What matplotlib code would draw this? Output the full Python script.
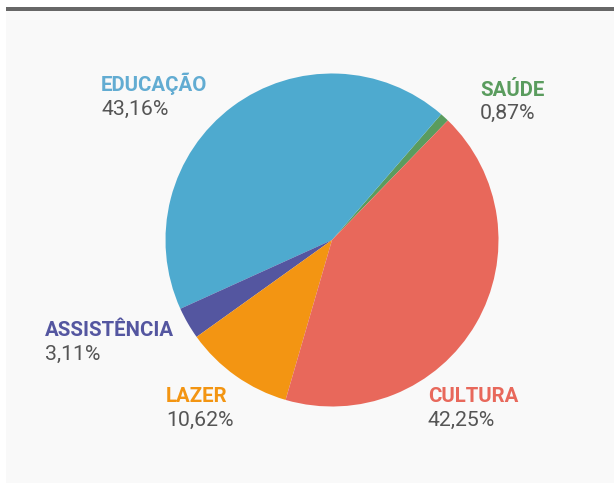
import matplotlib
matplotlib.use("Agg")
import matplotlib.pyplot as plt
from matplotlib.patches import Rectangle

# Spending share by area (%)
categories = ["SAÚDE", "EDUCAÇÃO", "ASSISTÊNCIA", "LAZER", "CULTURA"]
shares = [0.87, 43.16, 3.11, 10.62, 42.25]
value_labels = ["0,87%", "43,16%", "3,11%", "10,62%", "42,25%"]
colors = ["#5a9c5e", "#4eaacf", "#5456a0", "#f39512", "#e8685b"]
label_colors = ["#5a9c5e", "#62acd2", "#5456a0", "#f39512", "#e8685b"]

W, H = 614, 483
fig = plt.figure(figsize=(W / 100, H / 100), dpi=100)
fig.patch.set_facecolor("white")

def px(x, y):
    return x / W, 1 - y / H

# light panel and dark rule on top
fig.patches.append(Rectangle(px(6, 483), (W - 6) / W, (483 - 8) / H,
                             transform=fig.transFigure, facecolor="#f9f9f9",
                             edgecolor="none", zorder=-2))
fig.patches.append(Rectangle(px(6, 10.5), (W - 6) / W, 3 / H,
                             transform=fig.transFigure, facecolor="#676767",
                             edgecolor="none", zorder=-1))

# pie centred at (332, 240) px, radius 166 px
cx, cy, r = 332, 240, 166.5
ax = fig.add_axes([(cx - r) / W, 1 - (cy + r) / H, 2 * r / W, 2 * r / H])
ax.set_zorder(2)
ax.pie(shares, colors=colors, startangle=45.9, counterclock=True,
       wedgeprops=dict(linewidth=0))
ax.set_xlim(-1, 1)
ax.set_ylim(-1, 1)
ax.set_axis_off()
ax.patch.set_alpha(0)

# label anchors: left x, name baseline, value baseline (px)
label_pos = {
    "SAÚDE": (480, 96, 119),
    "EDUCAÇÃO": (101, 91, 115),
    "ASSISTÊNCIA": (45, 336, 360),
    "LAZER": (166, 402, 426),
    "CULTURA": (428, 402, 426),
}
name_font = dict(family="Roboto", weight="bold", size=14.7)
value_font = dict(family="Roboto", weight="normal", size=15.3)
for cat, val, col in zip(categories, value_labels, label_colors):
    x, yb1, yb2 = label_pos[cat]
    fig.text(*px(x, yb1), cat, color=col, ha="left", va="baseline", **name_font)
    fig.text(*px(x, yb2), val, color="#555555", ha="left", va="baseline", **value_font)

fig.savefig("out.png", dpi=100, facecolor=fig.get_facecolor())
